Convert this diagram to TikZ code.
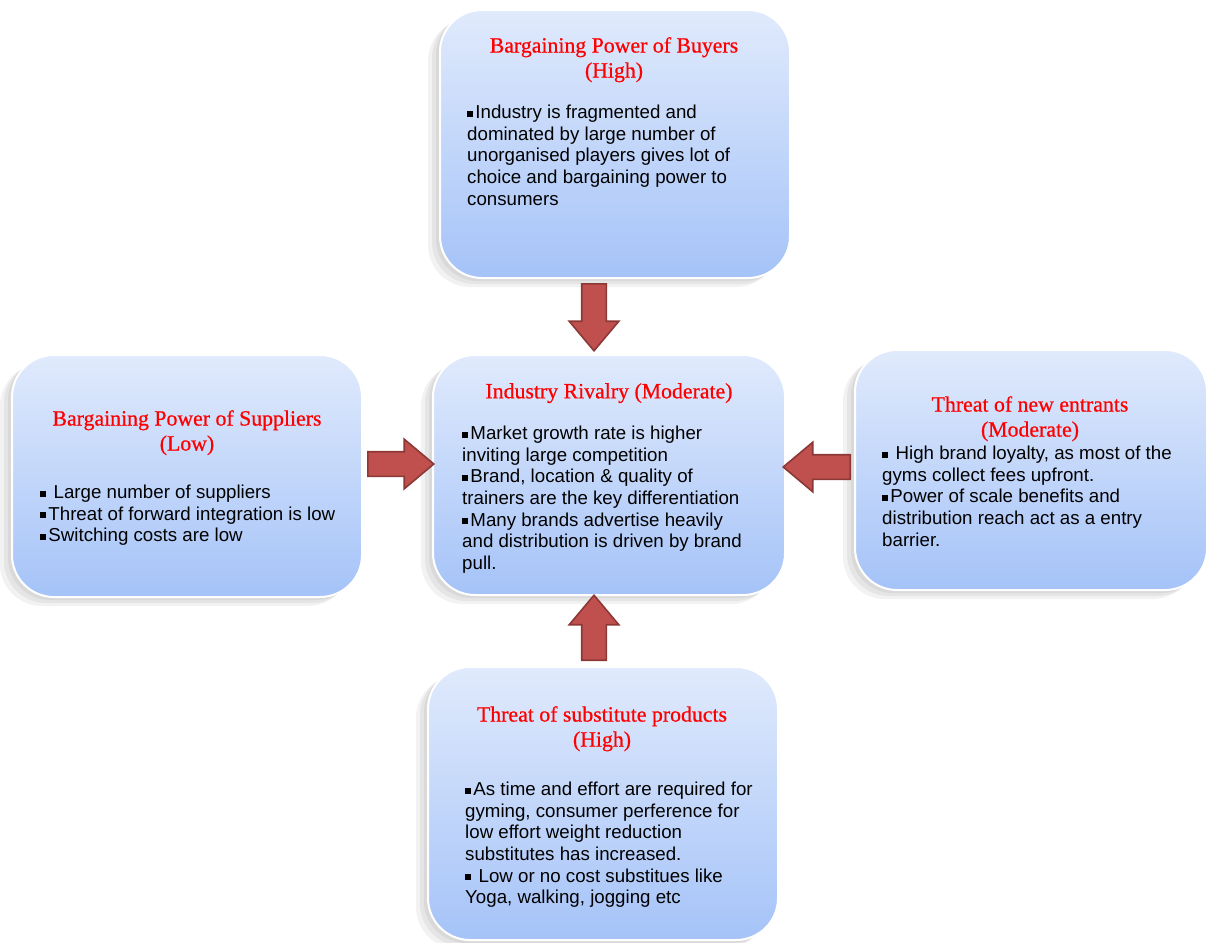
\documentclass[tikz,border=0pt]{standalone}
\usepackage{fontspec}
\setmainfont{Liberation Serif}
\setsansfont{Liberation Sans}
\newfontfamily\titlefont[FakeBold=0.6]{Liberation Serif}
\usetikzlibrary{shapes.arrows,shadows,calc}
\definecolor{boxtop}{HTML}{E0EAFC}
\definecolor{boxbot}{HTML}{A5C3F8}
\definecolor{arrowfill}{HTML}{C0504D}
\definecolor{arrowline}{HTML}{8C3836}
\definecolor{titlered}{HTML}{FF0000}
\newcommand{\bsq}{\raisebox{0.11em}{\rule{0.32em}{0.32em}}\kern0.12em}
\tikzset{
  forcebox/.style={rounded corners=42pt, top color=boxtop, bottom color=boxbot,
    draw=white, line width=2pt, inner sep=0pt,
    general shadow={fill=black, opacity=0.05, shadow xshift=-4pt, shadow yshift=-3pt},
    general shadow={fill=black, opacity=0.05, shadow xshift=-8pt, shadow yshift=-6pt},
    general shadow={fill=black, opacity=0.05, shadow xshift=-12pt, shadow yshift=-9pt}},
  titletext/.style={anchor=north, align=center, inner sep=0pt, text=titlered,
    font=\titlefont\fontsize{21.8}{25}\selectfont},
  bodytext/.style={anchor=north west, align=left, inner sep=0pt,
    font=\sffamily\fontsize{18.7}{21.6}\selectfont},
  blockarrow/.style={single arrow, anchor=tail, fill=arrowfill, draw=arrowline, line width=1.6pt,
    inner xsep=0pt, inner ysep=11.5pt, minimum width=48pt, single arrow head extend=12.5pt,
    single arrow tip angle=80}
}
\begin{document}
\begin{tikzpicture}[x=1pt,y=-1pt]
\useasboundingbox (0,0) rectangle (1209,942);
\fill[white] (0,0) rectangle (1209,942);
% boxes
\node[forcebox, minimum width=350pt, minimum height=268pt] (buyers) at (615,144) {};
\node[forcebox, minimum width=352pt, minimum height=240pt] (rivalry) at (609,475) {};
\node[forcebox, minimum width=350pt, minimum height=242pt] (suppliers) at (187,476) {};
\node[forcebox, minimum width=352pt, minimum height=240pt] (entrants) at (1031,470) {};
\node[forcebox, minimum width=350pt, minimum height=273pt] (subst) at (603,803.5) {};
% arrows
\node[blockarrow, minimum height=67pt, rotate=-90] (a1) at ($(buyers.south)+(-21,4)$) {};
\node[blockarrow, minimum height=66pt] (a2) at ($(suppliers.east)+(4,-12)$) {};
\node[blockarrow, minimum height=67pt, rotate=180] (a3) at ($(entrants.west)+(-3,-3)$) {};
\node[blockarrow, minimum height=65pt, rotate=90] (a4) at ($(subst.north)+(-9,-5)$) {};
% texts
\node[titletext] (buyersT) at (614,37) {Bargaining Power of Buyers\\(High)};
\node[bodytext] (buyersB) at (467,105) {\bsq Industry is fragmented and\\dominated by large number of\\unorganised players gives lot of\\choice and bargaining power to\\consumers};
\node[titletext] (rivalryT) at (609,383) {Industry Rivalry (Moderate)};
\node[bodytext] (rivalryB) at (462,426) {\bsq Market growth rate is higher\\inviting large competition\\\bsq Brand, location \& quality of\\trainers are the key differentiation\\\bsq Many brands advertise heavily\\and distribution is driven by brand\\pull.};
\node[titletext] (suppliersT) at (187,410) {Bargaining Power of Suppliers\\(Low)};
\node[bodytext] (suppliersB) at (40,485) {\bsq{} Large number of suppliers\\\bsq Threat of forward integration is low\\\bsq Switching costs are low};
\node[titletext] (entrantsT) at (1030,396) {Threat of new entrants\\(Moderate)};
\node[bodytext] (entrantsB) at (882,446) {\bsq{} High brand loyalty, as most of the\\gyms collect fees upfront.\\\bsq Power of scale benefits and\\distribution reach act as a entry\\barrier.};
\node[titletext] (substT) at (602,706) {Threat of substitute products\\(High)};
\node[bodytext] (substB) at (465,782) {\bsq As time and effort are required for\\gyming, consumer perference for\\low effort weight reduction\\substitutes has increased.\\\bsq{} Low or no cost substitues like\\Yoga, walking, jogging etc};
\end{tikzpicture}
\end{document}
